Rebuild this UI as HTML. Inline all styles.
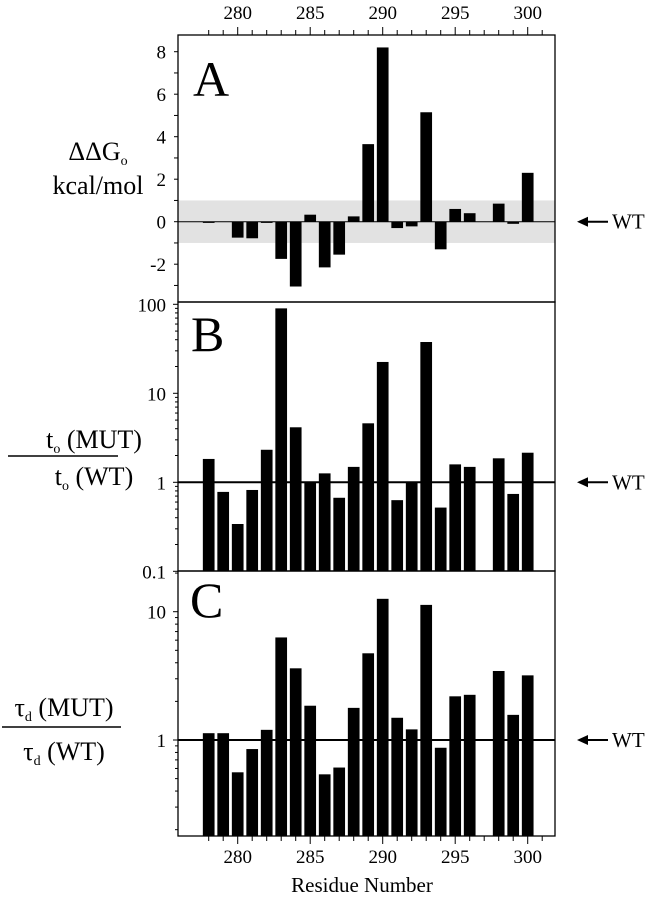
<!DOCTYPE html>
<html><head><meta charset="utf-8"><style>
html,body{margin:0;padding:0;background:#fff;}
svg{display:block;}
svg text{font-family:"Liberation Serif","Times New Roman",serif;}
</style></head><body>
<svg id="chart" width="659" height="899" viewBox="0 0 659 899" xmlns="http://www.w3.org/2000/svg" font-family="Liberation Serif, serif">
<g id="gA"></g>
<g id="gB"></g>
<g id="gC"></g>
<g id="gX"></g>
<text x="98" y="160" font-size="26" text-anchor="middle">ΔΔG<tspan font-size="14" dy="5">o</tspan></text>
<text x="98" y="194" font-size="26" text-anchor="middle">kcal/mol</text>
<text x="94" y="448" font-size="26" text-anchor="middle">t<tspan font-size="14" dy="5">o</tspan><tspan dy="-5"> (MUT)</tspan></text>
<line x1="8" x2="118" y1="456" y2="456" stroke="#000" stroke-width="1.5"/>
<text x="94" y="485" font-size="26" text-anchor="middle">t<tspan font-size="14" dy="5">o</tspan><tspan dy="-5"> (WT)</tspan></text>
<text x="64" y="716" font-size="26" text-anchor="middle">τ<tspan font-size="14" dy="5">d</tspan><tspan dy="-5"> (MUT)</tspan></text>
<line x1="2" x2="121" y1="727" y2="727" stroke="#000" stroke-width="1.5"/>
<text x="64" y="760" font-size="26" text-anchor="middle">τ<tspan font-size="14" dy="5">d</tspan><tspan dy="-5"> (WT)</tspan></text>
<text x="362" y="892" font-size="21" text-anchor="middle">Residue Number</text>
</svg>
<script>
const residues=[278,279,280,281,282,283,284,285,286,287,288,289,290,291,292,293,294,295,296,298,299,300];
const ddG=[-0.05,null,-0.75,-0.78,-0.03,-1.75,-3.05,0.33,-2.15,-1.55,0.25,3.65,8.2,-0.3,-0.22,5.15,-1.3,0.6,0.4,0.85,-0.1,2.3];
const tauO=[1.83,0.78,0.34,0.82,2.32,90,4.15,1.0,1.26,0.67,1.49,4.6,22.5,0.63,1.0,37.7,0.52,1.59,1.49,1.86,0.74,2.15];
const tauD=[1.13,1.13,0.56,0.85,1.2,6.3,3.62,1.85,0.54,0.61,1.78,4.74,12.6,1.49,1.21,11.3,0.87,2.19,2.25,3.45,1.57,3.19];
const xTicks=[280,285,290,295,300];
const aTicks=[-2,0,2,4,6,8];
const bTicks=[0.1,1,10,100];
const cTicks=[1,10];
const NS="http://www.w3.org/2000/svg";
const L=178,R=555,BW=11.7;
const X=r=>237.7+(r-280)*14.5;
function mk(g,tag,at,txt){const e=document.createElementNS(NS,tag);for(const k in at)e.setAttribute(k,at[k]);if(txt!==undefined)e.textContent=txt;g.appendChild(e);return e;}
const yA=v=>221.7-v*21.25;
const yB=v=>482.3-Math.log10(v)*89;
const yC=v=>740-Math.log10(v)*128.3;
const gA=document.getElementById('gA'),gB=document.getElementById('gB'),gC=document.getElementById('gC'),gX=document.getElementById('gX');
const TS=19;
let band=mk(gA,'rect',{x:L,y:yA(1),width:R-L,height:yA(-1)-yA(1),fill:'#e2e2e2'});


mk(gA,'line',{x1:L,x2:R,y1:yA(0),y2:yA(0),stroke:'#000','stroke-width':1});
for(let i=-3;i<=8;i++){mk(gA,'line',{x1:L-4,x2:L,y1:yA(i),y2:yA(i),stroke:'#000'});}
aTicks.forEach(t=>{let e=mk(gA,'text',{x:L-12,y:yA(t)+7,'font-size':TS,'text-anchor':'end'},t);

});
residues.forEach((r,i)=>{const v=ddG[i];if(v===null)return;const y0=yA(0),y1=yA(v);
let b=mk(gA,'rect',{x:X(r)-BW/2,y:Math.min(y0,y1),width:BW,height:Math.max(1.2,Math.abs(y1-y0)),fill:'#000'});

});
mk(gA,'text',{x:193,y:96,'font-size':50},'A');
function logAxis(g,y,lo,hi){for(let d=lo;d<hi;d++){for(let m=1;m<10;m++){const v=m*Math.pow(10,d);const yy=y(v);mk(g,'line',{x1:L-(m===1?5:3),x2:L,y1:yy,y2:yy,stroke:'#000'});}}mk(g,'line',{x1:L-5,x2:L,y1:y(Math.pow(10,hi)),y2:y(Math.pow(10,hi)),stroke:'#000'});}
logAxis(gB,yB,-1,2);
bTicks.forEach(t=>{let e=mk(gB,'text',{x:L-12,y:yB(t)+7,'font-size':TS,'text-anchor':'end'},t);

});
residues.forEach((r,i)=>{const y0=yB(0.1),y1=yB(tauO[i]);
let b=mk(gB,'rect',{x:X(r)-BW/2,y:y1,width:BW,height:y0-y1,fill:'#000'});

});
mk(gB,'line',{x1:L,x2:R,y1:yB(1),y2:yB(1),stroke:'#000','stroke-width':2});
mk(gB,'text',{x:191,y:351,'font-size':50},'B');
const cBot=836,cTop=571;
for(let d=-1;d<2;d++){for(let m=1;m<10;m++){const v=m*Math.pow(10,d);const yy=yC(v);if(yy>cBot||yy<cTop)continue;mk(gC,'line',{x1:L-(m===1?5:3),x2:L,y1:yy,y2:yy,stroke:'#000'});}}
cTicks.forEach(t=>{let e=mk(gC,'text',{x:L-12,y:yC(t)+7,'font-size':TS,'text-anchor':'end'},t);

});
residues.forEach((r,i)=>{const y1=yC(tauD[i]);
let b=mk(gC,'rect',{x:X(r)-BW/2,y:y1,width:BW,height:cBot-y1,fill:'#000'});

});
mk(gC,'line',{x1:L,x2:R,y1:yC(1),y2:yC(1),stroke:'#000','stroke-width':2});
mk(gC,'text',{x:190,y:617,'font-size':50},'C');
[[35,302],[302,571],[571,836]].forEach(([t,b])=>{mk(gX,'rect',{x:L,y:t,width:R-L,height:b-t,fill:'none',stroke:'#000','stroke-width':1.3});});
for(let r=278;r<=301;r++){const big=r%5===0;mk(gX,'line',{x1:X(r),x2:X(r),y1:35,y2:35-(big?8:5),stroke:'#000'});mk(gX,'line',{x1:X(r),x2:X(r),y1:836,y2:836+(big?8:5),stroke:'#000'});}
xTicks.forEach(t=>{let e=mk(gX,'text',{x:X(t),y:19,'font-size':TS,'text-anchor':'middle'},t);


let f=mk(gX,'text',{x:X(t),y:863,'font-size':TS,'text-anchor':'middle'},t);

});
[[yA(0),'wt-arrow-a'],[yB(1),'wt-arrow-b'],[yC(1),'wt-arrow-c']].forEach(([y,n])=>{
const g=mk(gX,'g',{});


mk(g,'line',{x1:582,x2:608,y1:y,y2:y,stroke:'#000','stroke-width':2});
mk(g,'path',{d:`M577 ${y} L588 ${y-5} L588 ${y+5} Z`,fill:'#000'});
mk(g,'text',{x:612,y:y+7,'font-size':21},'WT');});
</script>
</body></html>
